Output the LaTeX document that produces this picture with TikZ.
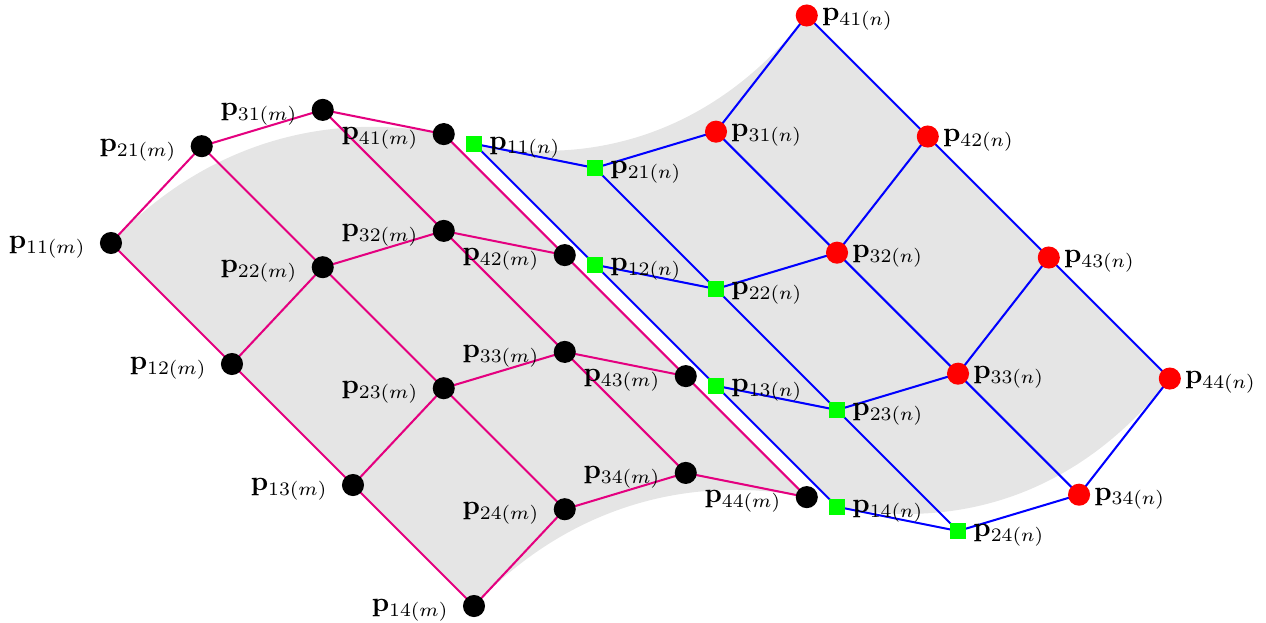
\documentclass[tikz,border=0pt]{standalone}
\usepackage{amsmath}
\definecolor{mypink}{RGB}{228,0,127}
\definecolor{patchgray}{RGB}{229,229,229}

\begin{document}
\begin{tikzpicture}[x=1.56cm, y=1.56cm,
        mline/.style={mypink, line width=0.75pt},   %Netz m
        nline/.style={blue, line width=0.75pt},     %Netz n
        mdot/.style={circle, fill=black, inner sep=0pt, minimum size=8.1pt},
        ndot/.style={circle, fill=red, inner sep=0pt, minimum size=8.1pt},
        nsq/.style={rectangle, fill=green, inner sep=0pt, minimum size=5.8pt},
        mlab/.style={label distance=1.5pt, yshift=-1.5pt},
        nlab/.style={label distance=-2.2pt, yshift=-1.5pt},
        sqlab/.style={label distance=-1pt, yshift=-1.5pt}]
        \useasboundingbox (-0.917,-3.14) rectangle (9.545,2.008);
        % Kontrollpunkte
        \foreach \i/\bx/\by in {1/0/0, 2/0.75/0.8, 3/1.75/1.1, 4/2.75/0.9}
          \foreach \j in {1,...,4} \coordinate (m\i\j) at ({\bx+\j-1},{\by-\j+1});
        \foreach \i/\bx/\by in {1/3/0.82, 2/4/0.62, 3/5/0.92, 4/5.75/1.88}
          \foreach \j in {1,...,4} \coordinate (n\i\j) at ({\bx+\j-1},{\by-\j+1});
        % Flaechen
        \fill[patchgray] (m11) .. controls (m21) and (m31) .. (m41) -- (m44)
          .. controls (m34) and (m24) .. (m14) -- cycle;
        \fill[patchgray] (n11) .. controls (n21) and (n31) .. (n41) -- (n44)
          .. controls (n34) and (n24) .. (n14) -- cycle;
        % Kontrollnetze
        \foreach \k in {1,...,4} {
          \draw[mline] (m1\k) -- (m2\k) -- (m3\k) -- (m4\k);
          \draw[mline] (m\k1) -- (m\k2) -- (m\k3) -- (m\k4);
          \draw[nline] (n1\k) -- (n2\k) -- (n3\k) -- (n4\k);
          \draw[nline] (n\k1) -- (n\k2) -- (n\k3) -- (n\k4);
        }
        % Punkte
        \foreach \i in {1,...,4} \foreach \j in {1,...,4}
          \node[mdot, label={[mlab]left:$\mathbf{p}_{\i\j(m)}$}] (dm\i\j) at (m\i\j) {};
        \foreach \i in {1,2} \foreach \j in {1,...,4}
          \node[nsq, label={[sqlab]right:$\mathbf{p}_{\i\j(n)}$}] (dn\i\j) at (n\i\j) {};
        \foreach \i in {3,4} \foreach \j in {1,...,4}
          \node[ndot, label={[nlab]right:$\mathbf{p}_{\i\j(n)}$}] (dn\i\j) at (n\i\j) {};
\end{tikzpicture}
\end{document}
